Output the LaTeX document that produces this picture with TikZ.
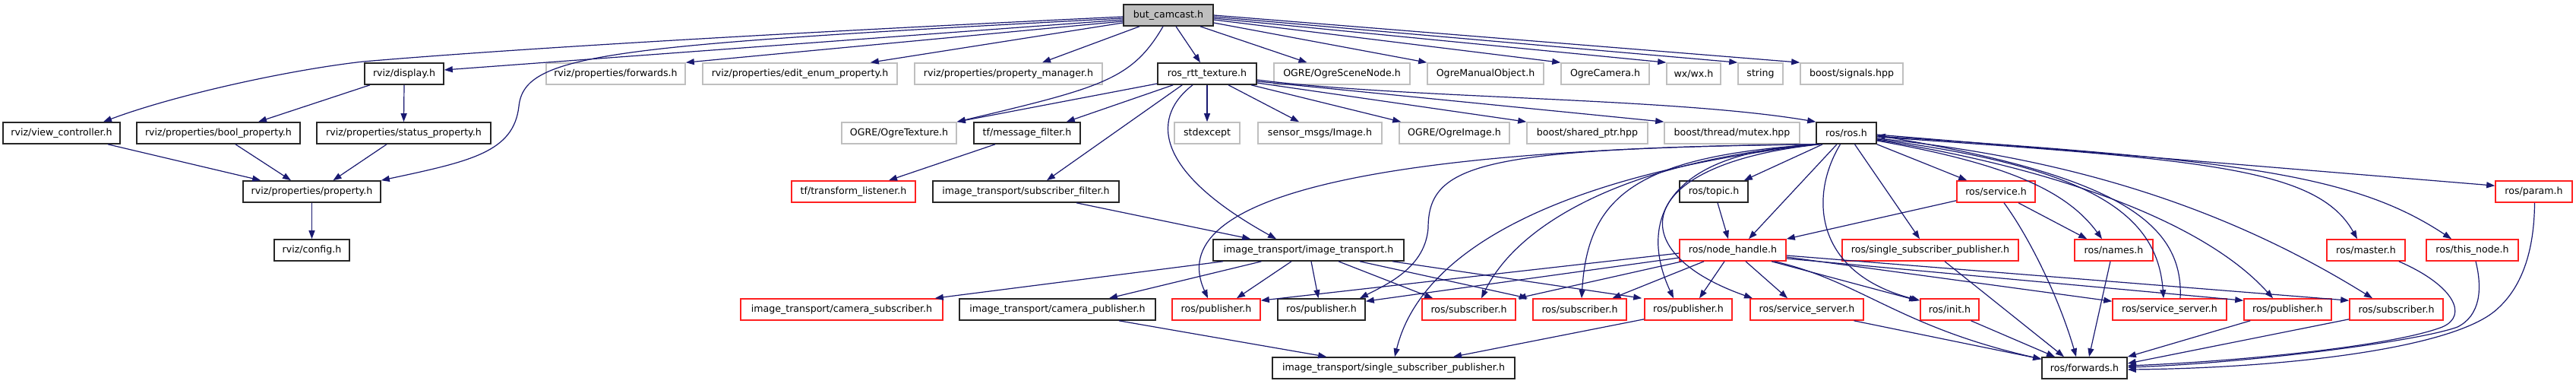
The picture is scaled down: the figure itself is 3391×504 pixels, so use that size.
\documentclass[tikz,border=0pt]{standalone}
\usepackage{fontspec}
\setmainfont{DejaVu Sans}
\usetikzlibrary{arrows.meta}
\definecolor{edgec}{HTML}{191970}
\definecolor{grayb}{HTML}{BFBFBF}
\definecolor{redb}{HTML}{FF2020}
\tikzset{
  box/.style={rectangle, minimum height=28pt, inner sep=0pt, line width=1.6pt,
    font=\fontsize{12.6}{14}\selectfont, text=black},
  nb/.style={box, draw=black!85},
  ng/.style={box, draw=grayb},
  nr/.style={box, draw=redb},
  nroot/.style={box, draw=black!85, fill=grayb},
  dep/.style={draw=edgec, line width=1.2pt, -{Triangle[length=11pt,width=8pt]}}
}
\begin{document}
\begin{tikzpicture}[x=1pt,y=-1pt]
\useasboundingbox (0,0) rectangle (3391,504);
% rank 0
\node[nroot, minimum width=118pt] (B) at (1538,20) {but\_camcast.h};
% rank 1
\node[nb, minimum width=104pt] (disp) at (532,97) {rviz/display.h};
\node[ng, minimum width=183pt] (fwd) at (810.5,97) {rviz/properties/forwards.h};
\node[ng, minimum width=256pt] (enum) at (1053,97) {rviz/properties/edit\_enum\_property.h};
\node[ng, minimum width=247pt] (pm) at (1327.5,97) {rviz/properties/property\_manager.h};
\node[nb, minimum width=130pt] (rtt) at (1589,97) {ros\_rtt\_texture.h};
\node[ng, minimum width=179pt] (scene) at (1766.5,97) {OGRE/OgreSceneNode.h};
\node[ng, minimum width=153pt] (manual) at (1955.5,97) {OgreManualObject.h};
\node[ng, minimum width=116pt] (cam) at (2113,97) {OgreCamera.h};
\node[ng, minimum width=71pt] (wx) at (2229.5,97) {wx/wx.h};
\node[ng, minimum width=59pt] (str) at (2317.5,97) {string};
\node[ng, minimum width=135pt] (sig) at (2437.5,97) {boost/signals.hpp};
% rank 2
\node[nb, minimum width=154pt] (vc) at (81,175) {rviz/view\_controller.h};
\node[nb, minimum width=215pt] (boolp) at (287.5,175) {rviz/properties/bool\_property.h};
\node[nb, minimum width=229pt] (statp) at (531.5,175) {rviz/properties/status\_property.h};
\node[ng, minimum width=151pt] (otex) at (1183.5,175) {OGRE/OgreTexture.h};
\node[nb, minimum width=140pt] (mf) at (1352,175) {tf/message\_filter.h};
\node[ng, minimum width=86pt] (stdx) at (1589,175) {stdexcept};
\node[ng, minimum width=163pt] (smsg) at (1737.5,175) {sensor\_msgs/Image.h};
\node[ng, minimum width=145pt] (oimg) at (1914.5,175) {OGRE/OgreImage.h};
\node[ng, minimum width=159pt] (sptr) at (2089.5,175) {boost/shared\_ptr.hpp};
\node[ng, minimum width=178pt] (mtx) at (2280,175) {boost/thread/mutex.hpp};
\node[nb, minimum width=79pt] (ros) at (2430.5,175) {ros/ros.h};
% rank 3
\node[nb, minimum width=181pt] (prop) at (410.5,252) {rviz/properties/property.h};
\node[nr, minimum width=163pt] (tl) at (1123.5,252) {tf/transform\_listener.h};
\node[nb, minimum width=245pt] (sf) at (1350.5,252) {image\_transport/subscriber\_filter.h};
\node[nb, minimum width=90pt] (topic) at (2256,252) {ros/topic.h};
\node[nr, minimum width=103pt] (svc) at (2627.5,252) {ros/service.h};
\node[nr, minimum width=101pt] (param) at (3335.5,252) {ros/param.h};
% rank 4
\node[nb, minimum width=99pt] (cfg) at (410.5,329) {rviz/config.h};
\node[nb, minimum width=251pt] (it) at (1722.5,329) {image\_transport/image\_transport.h};
\node[nr, minimum width=140pt] (nh) at (2281,329) {ros/node\_handle.h};
\node[nr, minimum width=232pt] (ssp) at (2541,329) {ros/single\_subscriber\_publisher.h};
\node[nr, minimum width=103pt] (names) at (2782.5,329) {ros/names.h};
\node[nr, minimum width=103pt] (master) at (3114.5,329) {ros/master.h};
\node[nr, minimum width=121pt] (thisn) at (3254.5,329) {ros/this\_node.h};
% rank 5
\node[nr, minimum width=266pt] (csub) at (1108,407) {image\_transport/camera\_subscriber.h};
\node[nb, minimum width=258pt] (cpub) at (1392,407) {image\_transport/camera\_publisher.h};
\node[nr, minimum width=116pt] (pubA) at (1601,407) {ros/publisher.h};
\node[nb, minimum width=115pt] (pubK) at (1739.5,407) {ros/publisher.h};
\node[nr, minimum width=123pt] (subA) at (1933.5,407) {ros/subscriber.h};
\node[nr, minimum width=123pt] (subB) at (2079.5,407) {ros/subscriber.h};
\node[nr, minimum width=115pt] (pubB) at (2222.5,407) {ros/publisher.h};
\node[nr, minimum width=149pt] (ssA) at (2378.5,407) {ros/service\_server.h};
\node[nr, minimum width=77pt] (init) at (2566.5,407) {ros/init.h};
\node[nr, minimum width=150pt] (ssB) at (2856,407) {ros/service\_server.h};
\node[nr, minimum width=115pt] (pubC) at (3011.5,407) {ros/publisher.h};
\node[nr, minimum width=123pt] (subC) at (3154.5,407) {ros/subscriber.h};
% rank 6
\node[nb, minimum width=319pt] (issp) at (1834.5,484) {image\_transport/single\_subscriber\_publisher.h};
\node[nb, minimum width=112pt] (fw) at (2744,484) {ros/forwards.h};

% edges from but_camcast.h
\draw[dep] ([yshift=-6pt]B.west) -- ([yshift=5pt]disp.east);
\draw[dep] ([yshift=-2pt]B.west) .. controls (1100,40) and (700,62) .. (478,81) .. controls (380,92) and (230,125) .. ([xshift=55pt]vc.north);
\draw[dep] ([yshift=-4pt]B.west) .. controls (800,60) and (690,70) .. (683,140) .. controls (676,200) and (620,212) .. (prop.north east);
\draw[dep] ([yshift=-8pt]B.west) -- (fwd.north east);
\draw[dep] ([yshift=-10pt]B.west) -- ([xshift=-36pt]enum.north east);
\draw[dep] ([xshift=-38pt]B.south) -- ([xshift=44.5pt]pm.north);
\draw[dep] ([xshift=-7pt]B.south) .. controls (1490,105) and (1450,115) .. (otex.north east);
\draw[dep] ([xshift=10pt]B.south) -- ([xshift=-9pt]rtt.north);
\draw[dep] ([xshift=42pt]B.south) -- ([xshift=-46pt]scene.north);
\draw[dep] ([yshift=-10pt]B.east) -- (manual.north west);
\draw[dep] ([yshift=-6pt]B.east) -- (cam.north west);
\draw[dep] ([yshift=-4pt]B.east) -- (wx.north west);
\draw[dep] ([yshift=-2pt]B.east) -- (str.north west);
\draw[dep] (B.east) -- (sig.north west);

% edges from ros_rtt_texture.h
\draw[dep] ([yshift=-13pt]rtt.west) -- (otex.north east);
\draw[dep] ([xshift=21pt]rtt.south west) -- ([xshift=-19pt]mf.north east);
\draw[dep] ([xshift=33pt]rtt.south west) -- ([xshift=27.5pt]sf.north);
\draw[dep] ([xshift=-19pt]rtt.south) .. controls (1520,150) and (1510,220) .. ([xshift=-42.5pt]it.north);
\draw[dep] (rtt.south) -- (stdx.north);
\draw[dep] ([xshift=28pt]rtt.south) -- ([xshift=-27.5pt]smsg.north);
\draw[dep] ([xshift=58pt]rtt.south) -- ([xshift=3pt]oimg.north west);
\draw[dep] ([yshift=-12pt]rtt.east) -- (sptr.north west);
\draw[dep] ([yshift=-10pt]rtt.east) -- (mtx.north west);
\draw[dep] ([yshift=-8pt]rtt.east) .. controls (1850,130) and (2200,128) .. (ros.north west);

% rviz part
\draw[dep] ([xshift=-45pt]disp.south) -- ([xshift=52.5pt]boolp.north);
\draw[dep] (disp.south) -- (statp.north);
\draw[dep] ([xshift=61pt]vc.south) -- ([xshift=24pt]prop.north west);
\draw[dep] ([xshift=22.5pt]boolp.south) -- ([xshift=-27.5pt]prop.north);
\draw[dep] ([xshift=-22.5pt]statp.south) -- ([xshift=28pt]prop.north);
\draw[dep] (prop.south) -- (cfg.north);

% tf / image_transport
\draw[dep] ([xshift=-42pt]mf.south) -- ([xshift=46.5pt]tl.north);
\draw[dep] ([xshift=66.5pt]sf.south) -- ([xshift=50pt]it.north west);
\draw[dep] ([xshift=-112.5pt]it.south) -- ([xshift=-11pt]csub.north east);
\draw[dep] ([xshift=-62pt]it.south) -- ([xshift=68pt]cpub.north);
\draw[dep] ([xshift=-22.5pt]it.south) -- ([xshift=27pt]pubA.north);
\draw[dep] ([xshift=3.5pt]it.south) -- ([xshift=-4pt]pubK.north);
\draw[dep] ([xshift=39.5pt]it.south) -- ([xshift=15pt]subA.north west);
\draw[dep] ([xshift=67.5pt]it.south) -- ([xshift=-6pt]subB.north west);
\draw[dep] ([xshift=110.5pt]it.south) -- ([xshift=-3pt]pubB.north west);
\draw[dep] ([xshift=81pt]cpub.south) -- ([xshift=72pt]issp.north west);
\draw[dep] ([yshift=2pt]pubB.south west) -- ([xshift=78.5pt]issp.north);

% ros/ros.h to the left
\draw[dep] (ros.south west) .. controls (1800,195) and (1530,260) .. ([xshift=-11pt]pubA.north);
\draw[dep] ([xshift=2pt]ros.south west) .. controls (1950,195) and (1880,215) .. (1880,300) .. controls (1876,350) and (1830,372) .. ([xshift=50.5pt]pubK.north);
\draw[dep] ([xshift=1pt]ros.south west) .. controls (2050,230) and (1870,330) .. ([xshift=1.5pt]issp.north);
\draw[dep] ([xshift=3pt]ros.south west) .. controls (2150,210) and (2000,290) .. ([xshift=16.5pt]subA.north);
\draw[dep] ([xshift=4pt]ros.south west) .. controls (2150,205) and (2090,260) .. ([xshift=2.5pt]subB.north);
\draw[dep] ([xshift=5pt]ros.south west) .. controls (2180,200) and (2160,300) .. ([xshift=-19.5pt]pubB.north);
\draw[dep] ([xshift=6pt]ros.south west) .. controls (2150,215) and (2130,330) .. ([xshift=-71.5pt]ssA.north);
% ros/ros.h downwards
\draw[dep] ([xshift=9pt]ros.south west) -- ([xshift=-6pt]topic.north east);
\draw[dep] ([xshift=-12.5pt]ros.south) -- ([xshift=21pt]nh.north);
\draw[dep] ([xshift=-8pt]ros.south) .. controls (2380,260) and (2390,360) .. ([yshift=-3pt]init.north west);
\draw[dep] ([xshift=11pt]ros.south) -- ([xshift=-14pt]ssp.north);
\draw[dep] (ros.south east) -- ([xshift=14pt]svc.north west);
% ros/ros.h to the right
\draw[dep] ([yshift=-10pt]ros.east) .. controls (2640,215) and (2720,250) .. ([xshift=-15.5pt]names.north);
\draw[dep] ([yshift=-8pt]ros.east) .. controls (2750,220) and (2840,280) .. ([xshift=-8pt]ssB.north);
\draw[dep] ([xshift=14pt]ssB.north) .. controls (2875,290) and (2780,230) .. ([yshift=-3pt]ros.east);
\draw[dep] ([yshift=-9pt]ros.east) .. controls (2700,220) and (2900,290) .. ([xshift=-19.5pt]pubC.north);
\draw[dep] ([yshift=-7pt]ros.east) .. controls (2750,210) and (2950,285) .. ([xshift=-31.5pt]subC.north);
\draw[dep] ([yshift=-5pt]ros.east) .. controls (2900,210) and (3050,220) .. ([xshift=-11.5pt]master.north);
\draw[dep] ([yshift=-4pt]ros.east) .. controls (2950,210) and (3100,230) .. ([xshift=-27.5pt]thisn.north);
\draw[dep] ([yshift=-2pt]ros.east) -- ([yshift=-7pt]param.north west);

% topic / service / names
\draw[dep] ([xshift=5pt]topic.south) -- ([xshift=-6pt]nh.north);
\draw[dep] ([yshift=3pt]svc.south west) -- (nh.north east);
\draw[dep] ([xshift=29.5pt]svc.south) -- ([xshift=17pt]names.north west);
\draw[dep] ([xshift=10.5pt]svc.south) .. controls (2670,310) and (2710,390) .. ([xshift=-11pt]fw.north);
\draw[dep] ([xshift=-4.5pt]names.south) -- ([xshift=6pt]fw.north);

% node_handle
\draw[dep] ([yshift=-4pt]nh.west) -- ([yshift=-3pt]pubA.north east);
\draw[dep] ([yshift=-10pt]nh.west) -- ([yshift=-4pt]pubK.north east);
\draw[dep] ([xshift=4pt]nh.south west) -- ([xshift=2pt]subA.north east);
\draw[dep] ([xshift=-38pt]nh.south) -- ([xshift=43pt]subB.north);
\draw[dep] ([xshift=-11pt]nh.south) -- ([xshift=14.5pt]pubB.north);
\draw[dep] ([xshift=17pt]nh.south) -- ([xshift=-25.5pt]ssA.north);
\draw[dep] ([xshift=51pt]nh.south) -- ([xshift=-3pt,yshift=-3pt]init.north west);
\draw[dep] ([xshift=55pt]nh.south) .. controls (2450,370) and (2500,430) .. ([yshift=-3pt]fw.north west);
\draw[dep] ([yshift=-9pt]nh.east) -- ([yshift=-4pt]ssB.north west);
\draw[dep] ([yshift=-11pt]nh.east) -- ([yshift=-3pt]pubC.north west);
\draw[dep] ([yshift=-7pt]nh.east) -- ([yshift=-3pt]subC.north west);

% into ros/forwards.h
\draw[dep] ([xshift=62pt]ssA.south) -- ([yshift=-3pt]fw.north west);
\draw[dep] ([xshift=28pt]init.south) -- ([xshift=-39pt]fw.north);
\draw[dep] ([xshift=19pt]ssp.south) -- ([xshift=-27pt]fw.north);
\draw[dep] ([xshift=9pt]pubC.south west) -- (fw.north east);
\draw[dep] ([yshift=2pt]subC.south west) -- ([yshift=6pt]fw.east);
\draw[dep] ([xshift=-9pt]master.south east) .. controls (3230,375) and (3250,415) .. (3215,430) .. controls (3150,455) and (2950,475) .. ([yshift=3pt]fw.east);
\draw[dep] ([xshift=4.5pt]thisn.south) .. controls (3268,380) and (3265,415) .. (3235,430) .. controls (3180,450) and (2950,478) .. ([yshift=1pt]fw.east);
\draw[dep] ([xshift=1pt]param.south) .. controls (3336,330) and (3320,380) .. (3283,410) .. controls (3220,460) and (3000,484) .. ([yshift=-2pt]fw.east);
\end{tikzpicture}
\end{document}
